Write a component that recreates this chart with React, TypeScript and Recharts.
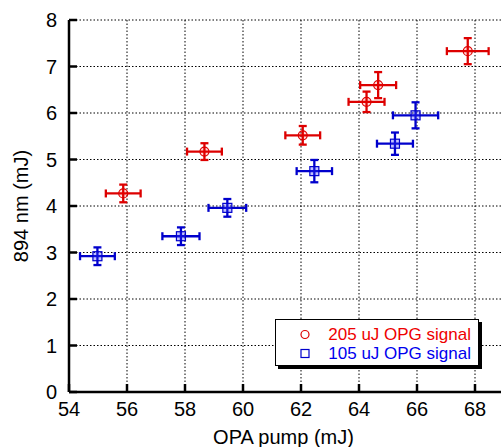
import { ScatterChart, Scatter, XAxis, YAxis, CartesianGrid, ErrorBar } from 'recharts';

const xTicks = [54, 56, 58, 60, 62, 64, 66, 68];
const yTicks = [0, 1, 2, 3, 4, 5, 6, 7, 8];

// 205 uJ OPG signal
const redPump = [55.87, 58.67, 62.06, 64.26, 64.66, 67.75];
const redEnergy = [4.27, 5.17, 5.52, 6.24, 6.6, 7.33];
const redPumpErr = [0.6, 0.6, 0.6, 0.62, 0.62, 0.72];
const redEnergyErr = [0.19, 0.18, 0.2, 0.22, 0.28, 0.28];

// 105 uJ OPG signal
const bluePump = [54.98, 57.86, 59.46, 62.46, 65.24, 65.95];
const blueEnergy = [2.92, 3.35, 3.96, 4.75, 5.34, 5.95];
const bluePumpErr = [0.6, 0.64, 0.65, 0.61, 0.62, 0.78];
const blueEnergyErr = [0.19, 0.19, 0.19, 0.24, 0.24, 0.28];

const seriesNames = ['205 uJ OPG signal', '105 uJ OPG signal'];

const RED = '#dd0000';
const BLUE = '#0000cc';
const FONT = '"Liberation Sans", Arial, Helvetica, sans-serif';

const redData = redPump.map((x, i) => ({ x, y: redEnergy[i], ex: redPumpErr[i], ey: redEnergyErr[i] }));
const blueData = bluePump.map((x, i) => ({ x, y: blueEnergy[i], ex: bluePumpErr[i], ey: blueEnergyErr[i] }));

const axisLine = { stroke: '#000', strokeWidth: 2.5 };
const tickLine = { stroke: '#000', strokeWidth: 2.5 };
const tickStyle = { fill: '#000', fontSize: 20, fontFamily: FONT };

const Circle = (props: any) => (
  <circle cx={props.cx} cy={props.cy} r={4.5} fill="rgba(255,0,0,0.15)" stroke={RED} strokeWidth={1.2} />
);

const Square = (props: any) => (
  <rect
    x={props.cx - 4.5}
    y={props.cy - 4.5}
    width={9}
    height={9}
    fill="rgba(60,60,255,0.3)"
    stroke={BLUE}
    strokeWidth={1.2}
  />
);

function LegendBox() {
  const text = { position: 'absolute' as const, right: 7, whiteSpace: 'nowrap' as const, lineHeight: '19px' };
  return (
    <div
      style={{
        position: 'absolute',
        left: 275,
        top: 319,
        width: 204,
        height: 47,
        border: '1.5px solid #000',
        boxShadow: '3px 3px 0 #000',
        background: '#fff',
        fontFamily: FONT,
        fontSize: 17,
        boxSizing: 'border-box',
      }}
    >
      <svg width={60} height={45} style={{ position: 'absolute', left: 0, top: 0 }}>
        <circle cx={29} cy={14.5} r={4} fill="none" stroke={RED} strokeWidth={1.2} />
        <rect x={25} y={29.5} width={8} height={8} fill="none" stroke={BLUE} strokeWidth={1.2} />
      </svg>
      <span style={{ ...text, top: 5, color: '#ee0000' }}>{seriesNames[0]}</span>
      <span style={{ ...text, top: 24, color: '#0000ee' }}>{seriesNames[1]}</span>
    </div>
  );
}

export default function App() {
  return (
    <div
      style={{
        position: 'fixed',
        left: 0,
        top: 0,
        width: 501,
        height: 447,
        overflow: 'hidden',
        background: '#fff',
        fontFamily: FONT,
      }}
    >
      <ScatterChart width={506} height={447} margin={{ top: 20, right: 2, bottom: 0, left: 9 }}>
        <CartesianGrid strokeDasharray="1.5 2" stroke="#000" strokeWidth={1} />
        <XAxis
          xAxisId={0}
          type="number"
          dataKey="x"
          domain={[54, 69]}
          ticks={xTicks}
          allowDataOverflow
          height={55}
          tickSize={-8}
          tickMargin={18}
          axisLine={axisLine}
          tickLine={tickLine}
          tick={tickStyle}
          label={{ value: 'OPA pump (mJ)', position: 'insideBottom', offset: 3, dx: -3, fill: '#000', fontSize: 20, fontFamily: FONT }}
        />
        <XAxis
          xAxisId="top"
          orientation="top"
          type="number"
          domain={[54, 69]}
          ticks={xTicks}
          allowDataOverflow
          height={0}
          tickSize={-8}
          axisLine={axisLine}
          tickLine={tickLine}
          tick={false}
        />
        <YAxis
          yAxisId={0}
          type="number"
          dataKey="y"
          domain={[0, 8]}
          ticks={yTicks}
          allowDataOverflow
          width={60}
          tickSize={-8}
          tickMargin={20}
          axisLine={axisLine}
          tickLine={tickLine}
          tick={tickStyle}
          label={{
            value: '894 nm (mJ)',
            angle: -90,
            position: 'insideLeft',
            offset: 12,
            fill: '#000',
            fontSize: 20,
            fontFamily: FONT,
            style: { textAnchor: 'middle' },
          }}
        />
        <YAxis
          yAxisId="right"
          orientation="right"
          type="number"
          domain={[0, 8]}
          ticks={yTicks}
          allowDataOverflow
          width={0}
          tickSize={-8}
          axisLine={axisLine}
          tickLine={tickLine}
          tick={false}
        />
        <Scatter name={seriesNames[0]} data={redData} shape={Circle} isAnimationActive={false}>
          <ErrorBar dataKey="ex" direction="x" width={4} stroke={RED} strokeWidth={2.3} />
          <ErrorBar dataKey="ey" direction="y" width={4} stroke={RED} strokeWidth={2.3} />
        </Scatter>
        <Scatter name={seriesNames[1]} data={blueData} shape={Square} isAnimationActive={false}>
          <ErrorBar dataKey="ex" direction="x" width={4} stroke={BLUE} strokeWidth={2.3} />
          <ErrorBar dataKey="ey" direction="y" width={4} stroke={BLUE} strokeWidth={2.3} />
        </Scatter>
      </ScatterChart>
      <LegendBox />
    </div>
  );
}
